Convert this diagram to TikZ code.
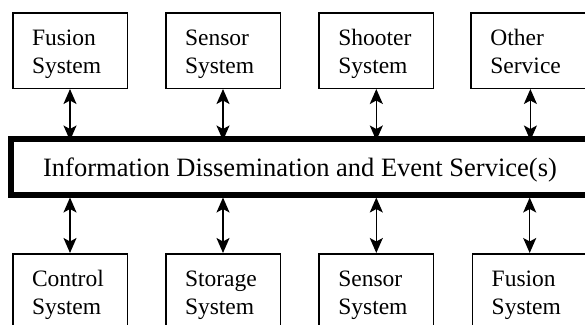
\documentclass[tikz,border=0pt]{standalone}
\usepackage{fontspec}
\setmainfont{Liberation Serif}
\usetikzlibrary{arrows.meta}
\begin{document}
\begin{tikzpicture}[x=1pt,y=-1pt,
  sysbox/.style={draw, line width=1.5pt, minimum width=114.5pt, minimum height=75.5pt,
    text width=76pt, inner xsep=19.25pt, inner ysep=0pt, align=left,
    text height=20pt, text depth=31pt, font=\fontsize{23.5}{28}\selectfont},
  busbox/.style={draw, line width=6pt, minimum width=578pt, minimum height=56pt,
    inner sep=0pt, text height=19pt, text depth=0pt,
    font=\fontsize{26.5}{30}\selectfont},
  link/.style={line width=1.5pt, {Stealth[length=15pt,width=13pt,inset=3.5pt]}-{Stealth[length=15pt,width=13pt,inset=3.5pt]}}]
\useasboundingbox (0,0) rectangle (585,324);
\clip (0,0) rectangle (585,324);

% top row of systems
\node[sysbox] (t1) at (70,50.5) {Fusion\\System};
\node[sysbox] (t2) at (223,50.5) {Sensor\\System};
\node[sysbox] (t3) at (376.3,50.5) {Shooter\\System};
\node[sysbox, minimum width=111.25pt] (t4) at (528.4,50.5) {Other\\Service};

% the dissemination bus
\node[busbox] (bus) at (300,166.5) {Information Dissemination and Event Service(s)};

% bottom row of systems
\node[sysbox] (b1) at (70,291.5) {Control\\System};
\node[sysbox] (b2) at (223,291.5) {Storage\\System};
\node[sysbox] (b3) at (376.3,291.5) {Sensor\\System};
\node[sysbox] (b4) at (529.7,291.5) {Fusion\\System};

% links between systems and the bus
\foreach \n in {t1,t2,t3}
  \draw[link] (\n.south) -- ([yshift=-5pt]\n.south |- bus.north);
\draw[link] ([xshift=2pt]t4.south) -- ([xshift=2pt,yshift=-5pt]t4.south |- bus.north);
\foreach \n in {b1,b2,b3,b4}
  \draw[link] (bus.south -| \n.north) -- (\n.north);
\end{tikzpicture}
\end{document}
